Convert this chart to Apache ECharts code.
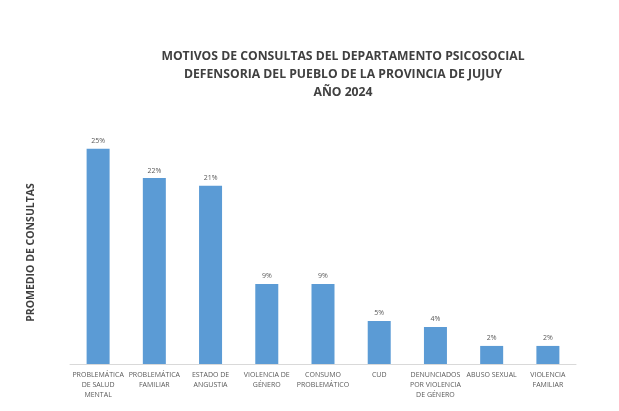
<!DOCTYPE html>
<html>
<head>
<meta charset="utf-8">
<script src="https://cdn.jsdelivr.net/npm/echarts@6/dist/echarts.min.js"></script>
<style>
  html, body { margin: 0; padding: 0; background: #fff; }
  #chart { width: 619px; height: 411px; }
</style>
</head>
<body>
<div id="chart"></div>
<script>
// categorías y valores (porcentaje)
const categories = [
  'PROBLEMÁTICA\nDE SALUD\nMENTAL',
  'PROBLEMÁTICA\nFAMILIAR',
  'ESTADO DE\nANGUSTIA',
  'VIOLENCIA DE\nGÉNERO',
  'CONSUMO\nPROBLEMÁTICO',
  'CUD',
  'DENUNCIADOS\nPOR VIOLENCIA\nDE GÉNERO',
  'ABUSO SEXUAL',
  'VIOLENCIA\nFAMILIAR'
]
const values = [25, 21.6, 20.7, 9.3, 9.3, 5.0, 4.3, 2.1, 2.1]

const titleLines = [
  'MOTIVOS DE CONSULTAS DEL DEPARTAMENTO PSICOSOCIAL',
  'DEFENSORIA DEL PUEBLO DE LA PROVINCIA DE JUJUY',
  'AÑO 2024'
]
const yName = 'PROMEDIO DE CONSULTAS'

const font = 'Open Sans, Liberation Sans, sans-serif'
const chart = echarts.init(document.getElementById('chart'))

chart.setOption({
  animation: false,
  title: {
    text: titleLines.join('\n'),
    left: 338,
    textAlign: 'center',
    top: 43,
    textStyle: {
      fontFamily: font,
      fontSize: 12.2,
      fontWeight: 'bold',
      color: '#404040',
      lineHeight: 18
    }
  },
  grid: { left: 70, right: 43, top: 123, bottom: 47, containLabel: false },
  xAxis: {
    type: 'category',
    data: categories,
    axisLine: { lineStyle: { color: '#d9d9d9' } },
    axisTick: { show: false },
    axisLabel: {
      interval: 0,
      fontFamily: font,
      fontSize: 7,
      color: '#595959',
      lineHeight: 10,
      margin: 6
    }
  },
  yAxis: {
    type: 'value',
    min: 0,
    max: 28,
    show: true,
    axisLine: { show: false },
    axisTick: { show: false },
    axisLabel: { show: false },
    splitLine: { show: false },
    name: yName,
    nameLocation: 'middle',
    nameGap: 33,
    nameTextStyle: {
      fontFamily: font,
      fontSize: 10.5,
      fontWeight: 'bold',
      color: '#404040',
      padding: [0, 18, 0, 0]
    }
  },
  series: [{
    type: 'bar',
    data: values,
    barWidth: 23,
    itemStyle: { color: '#5b9bd5' },
    label: {
      show: true,
      position: 'top',
      distance: 4,
      fontFamily: font,
      fontSize: 7,
      color: '#595959',
      formatter: p => Math.round(p.value) + '%'
    }
  }]
})
</script>
</body>
</html>
